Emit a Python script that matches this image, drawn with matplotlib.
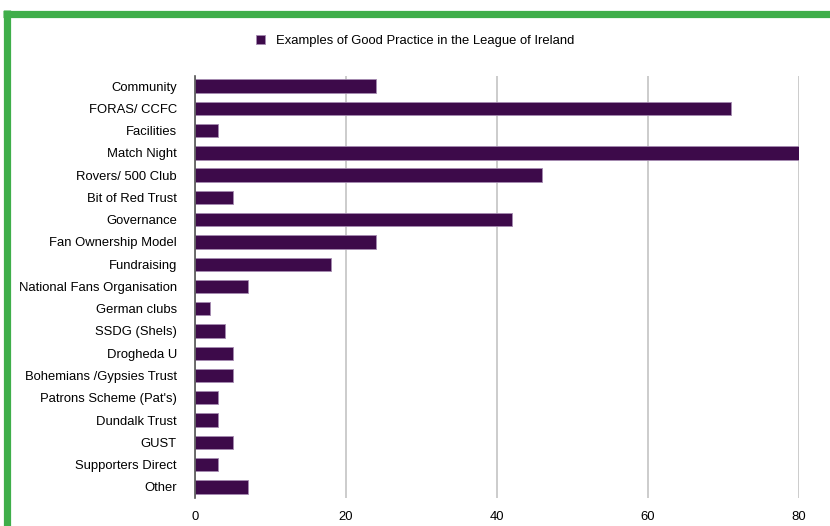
import matplotlib
matplotlib.use("Agg")
import matplotlib.pyplot as plt
from matplotlib.lines import Line2D

plt.rcParams['font.family'] = ['Liberation Sans', 'DejaVu Sans']

# data
categories = ["Community", "FORAS/ CCFC", "Facilities", "Match Night", "Rovers/ 500 Club",
              "Bit of Red Trust", "Governance", "Fan Ownership Model", "Fundraising",
              "National Fans Organisation", "German clubs", "SSDG (Shels)", "Drogheda U",
              "Bohemians /Gypsies Trust", "Patrons Scheme (Pat's)", "Dundalk Trust", "GUST",
              "Supporters Direct", "Other"]
values = [24, 71, 3, 80, 46, 5, 42, 24, 18, 7, 2, 4, 5, 5, 3, 3, 5, 3, 7]
series_name = "Examples of Good Practice in the League of Ireland"
x_ticks = [0, 20, 40, 60, 80]

fig = plt.figure(figsize=(8.3, 5.26), dpi=100)
ax = fig.add_axes([0.2349, 0.0532, 0.7277, 0.8023])

ypos = list(range(len(categories)))
ax.barh(ypos, values, height=0.6, color="#3d0a4a", edgecolor="#a58ab0",
        linewidth=0.6, label=series_name, zorder=3)

ax.set_ylim(len(categories) - 0.5, -0.45)
ax.set_xlim(0, 80)
ax.set_xticks(x_ticks)
ax.set_yticks(ypos)
ax.set_yticklabels(categories, fontsize=9.4)
ax.tick_params(axis="x", labelsize=9.4, length=0, pad=9)
ax.tick_params(axis="y", length=0, pad=13)
ax.grid(axis="x", color="#c4c4c4", linewidth=1.2, zorder=0)
for s in ["top", "right", "bottom"]:
    ax.spines[s].set_visible(False)
ax.spines["left"].set_color("#555555")
ax.spines["left"].set_linewidth(1.2)
ax.spines["left"].set_zorder(4)

fig.legend(loc="center", bbox_to_anchor=(0.5, 0.922), frameon=False, fontsize=9.4,
           handlelength=0.7, handleheight=0.7, handletextpad=0.8)

# green frame on top and left
fig.add_artist(Line2D([3 / 830, 1.0], [1 - 13.5 / 526, 1 - 13.5 / 526],
                      color="#3fae4a", linewidth=5.2, solid_capstyle="butt"))
fig.add_artist(Line2D([6.5 / 830, 6.5 / 830], [0.0, 1 - 10 / 526],
                      color="#3fae4a", linewidth=5.2, solid_capstyle="butt"))

fig.savefig("out.png", dpi=100)
